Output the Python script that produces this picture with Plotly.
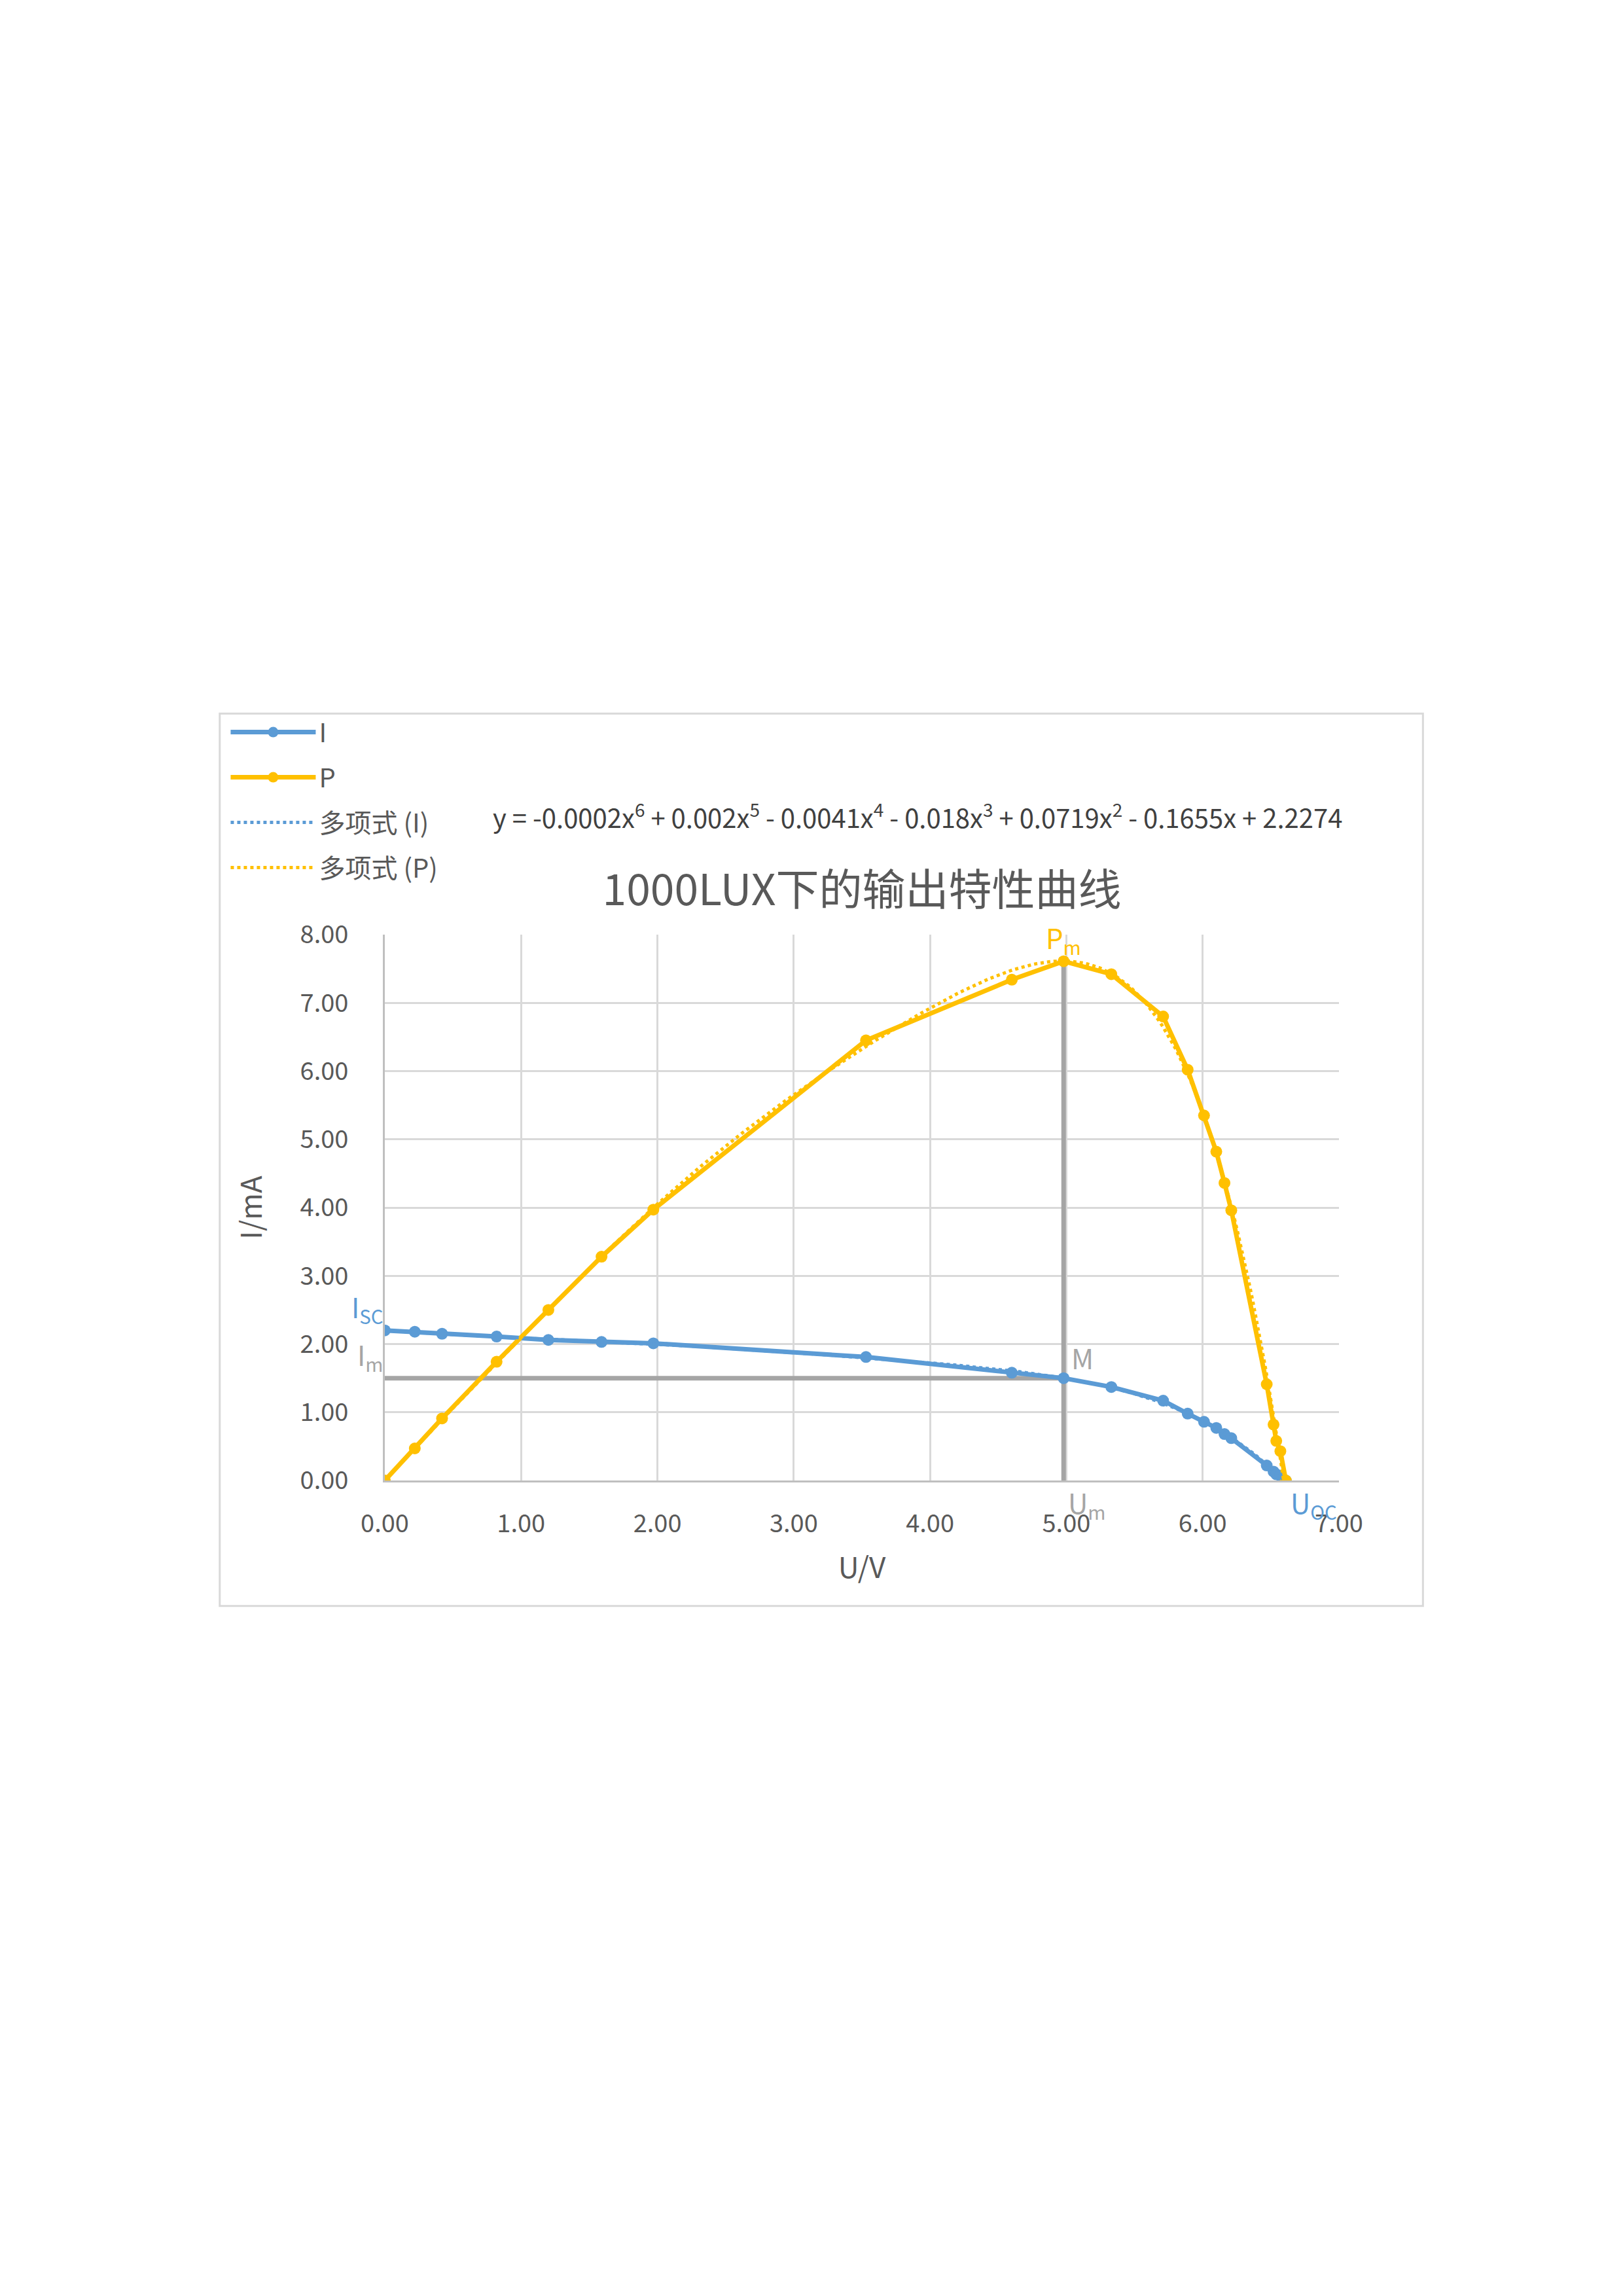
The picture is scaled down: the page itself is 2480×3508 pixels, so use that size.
import numpy as np
import plotly.graph_objects as go

U = [0.00, 0.22, 0.42, 0.82, 1.20, 1.59, 1.97, 3.53, 4.60, 4.98, 5.33, 5.71, 5.89, 6.01,
     6.10, 6.16, 6.21, 6.47, 6.52, 6.54, 6.57, 6.61]
I = [2.20, 2.18, 2.15, 2.11, 2.06, 2.03, 2.01, 1.81, 1.58, 1.50, 1.37, 1.17, 0.98, 0.86,
     0.77, 0.68, 0.62, 0.22, 0.13, 0.09, 0.07, 0.00]
P = [0.00, 0.47, 0.91, 1.74, 2.50, 3.28, 3.97, 6.45, 7.34, 7.61, 7.42, 6.80, 6.02, 5.35,
     4.82, 4.36, 3.96, 1.41, 0.82, 0.58, 0.43, 0.00]
Um, Im, Pm = 4.98, 1.50, 7.61

BLUE, YEL, GRAY = "#5B9BD5", "#FFC000", "#A5A5A5"
FONT = "Noto Sans CJK SC"

xs = np.linspace(0, 6.61, 300)
fitI = np.polyval(np.polyfit(U, I, 6), xs)
fitP = np.polyval(np.polyfit(U, P, 6), xs)

fig = go.Figure()
fig.add_trace(go.Scatter(x=[0, Um], y=[Im, Im], mode="lines", line=dict(color=GRAY, width=7),
                         showlegend=False, hoverinfo="skip"))
fig.add_trace(go.Scatter(x=[Um, Um], y=[0, Pm], mode="lines", line=dict(color=GRAY, width=7),
                         showlegend=False, hoverinfo="skip"))
fig.add_trace(go.Scatter(x=U, y=I, name="I", mode="lines+markers", legendgroup="a",
                         line=dict(color=BLUE, width=7), marker=dict(size=18, color=BLUE)))
fig.add_trace(go.Scatter(x=U, y=P, name="P", mode="lines+markers", legendgroup="b",
                         line=dict(color=YEL, width=7), marker=dict(size=18, color=YEL)))
fig.add_trace(go.Scatter(x=xs, y=fitI, name="多项式 (I)", mode="lines", legendgroup="c",
                         line=dict(color=BLUE, width=5, dash="dot")))
fig.add_trace(go.Scatter(x=xs, y=fitP, name="多项式 (P)", mode="lines", legendgroup="d",
                         line=dict(color=YEL, width=5, dash="dot")))

ann = [
    dict(x=0, y=2.2, text="I<sub>SC</sub>", color=BLUE, xanchor="right", yanchor="bottom", xs=0),
    dict(x=0, y=Im, text="I<sub>m</sub>", color=GRAY, xanchor="right", yanchor="bottom", xs=0),
    dict(x=Um, y=Im, text="M", color=GRAY, xanchor="left", yanchor="bottom", xs=10),
    dict(x=Um, y=0, text="U<sub>m</sub>", color=GRAY, xanchor="left", yanchor="top", xs=5),
    dict(x=Um, y=Pm, text="P<sub>m</sub>", color=YEL, xanchor="center", yanchor="bottom", xs=0),
    dict(x=6.61, y=0, text="U<sub>OC</sub>", color=BLUE, xanchor="left", yanchor="top", xs=5),
]
annotations = [dict(x=a["x"], y=a["y"], text=a["text"], showarrow=False, xanchor=a["xanchor"],
                    yanchor=a["yanchor"], xshift=a["xs"], font=dict(size=42, color=a["color"], family=FONT))
               for a in ann]
annotations.append(dict(xref="paper", yref="paper", x=0.112, y=1.218, xanchor="left", yanchor="middle",
                        showarrow=False,
                        text="y = -0.0002x<sup>6</sup> + 0.002x<sup>5</sup> - 0.0041x<sup>4</sup> - 0.018x<sup>3</sup> + 0.0719x<sup>2</sup> - 0.1655x + 2.2274",
                        font=dict(size=40, color="#404040", family=FONT)))

fig.update_layout(
    width=2480, height=3508, paper_bgcolor="white", plot_bgcolor="white",
    margin=dict(l=580, r=442, t=1420, b=1254, autoexpand=False),
    font=dict(family=FONT, color="#595959", size=38),
    title=dict(text="1000LUX下的输出特性曲线", x=0.5, xanchor="center", xref="paper",
               y=(3508 - 1352) / 3508, yanchor="middle", font=dict(size=66, color="#595959")),
    legend=dict(x=-0.165, y=1.41, xanchor="left", yanchor="top", font=dict(size=40, color="#595959"),
                bgcolor="rgba(0,0,0,0)", itemwidth=130, traceorder="grouped", tracegroupgap=14),
    annotations=annotations,
    shapes=[dict(type="rect", xref="paper", yref="paper", x0=-0.173, x1=1.088, y0=-0.230, y1=1.405,
                 line=dict(color="#D9D9D9", width=3), layer="below")],
    xaxis=dict(range=[0, 7], dtick=1, tickformat=".2f", showgrid=True, gridcolor="#D9D9D9", gridwidth=3,
               showline=True, linecolor="#BFBFBF", linewidth=3, zeroline=False, ticks="",
               ticklabelstandoff=30, title=dict(text="U/V", font=dict(size=44), standoff=30),
               tickfont=dict(size=38)),
    yaxis=dict(range=[0, 8], dtick=1, tickformat=".2f", showgrid=True, gridcolor="#D9D9D9", gridwidth=3,
               showline=True, linecolor="#BFBFBF", linewidth=3, zeroline=False, ticks="",
               ticklabelstandoff=45, title=dict(text="I/mA", font=dict(size=44), standoff=45),
               tickfont=dict(size=38)),
)
fig.write_html("out.html")
